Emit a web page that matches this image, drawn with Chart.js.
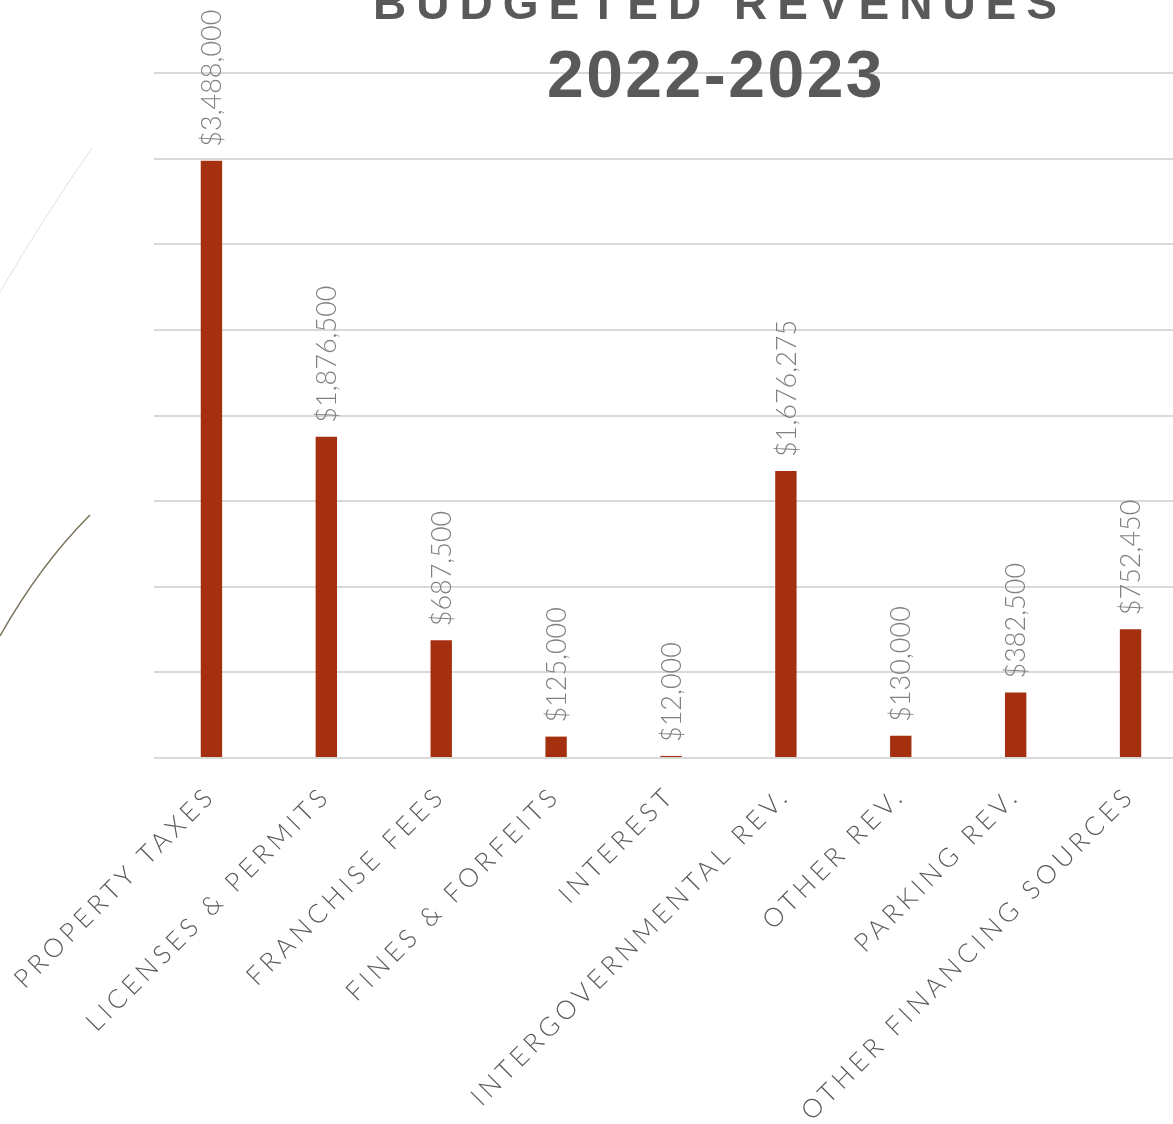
<!DOCTYPE html>
<html>
<head>
<meta charset="utf-8">
<script src="https://cdn.jsdelivr.net/npm/chart.js@4.4.1/dist/chart.umd.min.js"></script>
<style>
  html, body { margin: 0; background: #ffffff; overflow: hidden; }
  #wrap { width: 1188px; height: 1124px; position: relative; }
</style>
</head>
<body>
<div id="wrap"><canvas id="grafica"></canvas></div>
<script>
// datos del grafico
const categorias = ['PROPERTY TAXES', 'LICENSES & PERMITS', 'FRANCHISE FEES', 'FINES & FORFEITS', 'INTEREST',
    'INTERGOVERNMENTAL REV.', 'OTHER REV.', 'PARKING REV.', 'OTHER FINANCING SOURCES'];
const valores = [3488000, 1876500, 687500, 125000, 12000, 1676275, 130000, 382500, 752450];
const titulo = ['BUDGETED REVENUES', '2022-2023'];
const ejeMax = 4000000;
const ejePaso = 500000;

const colorBarra = '#A5300F';
const colorRejilla = '#d9d9d9';

function formatoDinero(v) {
    return '$' + v.toLocaleString('en-US');
}

// espaciado de letras para las etiquetas de categorias
const espaciado = {
    id: 'espaciado',
    beforeLayout(chart) { chart.ctx.letterSpacing = '4.5px'; },
    beforeDraw(chart) { chart.ctx.letterSpacing = '4.5px'; }
};

// lineas decorativas a la izquierda
const decoracion = {
    id: 'decoracion',
    beforeDraw(chart) {
        const ctx = chart.ctx;
        ctx.save();
        ctx.lineWidth = 1;
        ctx.strokeStyle = '#e2dfd8';
        ctx.beginPath();
        ctx.moveTo(0, 292);
        ctx.quadraticCurveTo(45, 215, 92, 148);
        ctx.stroke();
        ctx.lineWidth = 1.5;
        ctx.strokeStyle = '#7a735c';
        ctx.beginPath();
        ctx.moveTo(0, 636);
        ctx.quadraticCurveTo(40, 565, 90, 515);
        ctx.stroke();
        ctx.restore();
    }
};

// titulo y etiquetas de valores
const textos = {
    id: 'textos',
    afterDatasetsDraw(chart) {
        const ctx = chart.ctx;
        const meta = chart.getDatasetMeta(0);
        ctx.save();
        ctx.letterSpacing = '0px';
        ctx.fillStyle = '#808080';
        ctx.font = '300 27px Lato, "DejaVu Sans", sans-serif';
        ctx.textAlign = 'left';
        ctx.textBaseline = 'middle';
        meta.data.forEach((barra, i) => {
            ctx.save();
            ctx.translate(barra.x, barra.y - 14);
            ctx.rotate(-Math.PI / 2);
            ctx.fillText(formatoDinero(valores[i]), 0, 1);
            ctx.restore();
        });
        ctx.restore();
    },
    afterDraw(chart) {
        const ctx = chart.ctx;
        ctx.save();
        ctx.fillStyle = '#595959';
        ctx.textAlign = 'center';
        ctx.textBaseline = 'alphabetic';
        ctx.font = 'bold 46px "Liberation Sans", Arial, sans-serif';
        ctx.letterSpacing = '10px';
        ctx.fillText(titulo[0], 720, 19);
        ctx.font = 'bold 66px "Liberation Sans", Arial, sans-serif';
        ctx.letterSpacing = '2.5px';
        ctx.fillText(titulo[1], 716, 97);
        ctx.restore();
    }
};

const ctx = document.getElementById('grafica').getContext('2d');
const grafica = new Chart(ctx, {
    type: 'bar',
    data: {
        labels: categorias,
        datasets: [{
            label: 'Budgeted Revenues',
            data: valores,
            backgroundColor: colorBarra,
            borderWidth: 0,
            categoryPercentage: 1,
            barPercentage: 0.186
        }]
    },
    options: {
        responsive: true,
        maintainAspectRatio: false,
        animation: false,
        layout: {
            padding: { top: 73, right: 0, bottom: 0, left: 0 }
        },
        plugins: {
            legend: { display: false },
            tooltip: { enabled: false }
        },
        scales: {
            x: {
                grid: { display: false },
                border: { display: false },
                ticks: {
                    color: '#595959',
                    font: { family: 'Lato, "DejaVu Sans", sans-serif', size: 26, weight: '300' },
                    minRotation: 45,
                    maxRotation: 45,
                    autoSkip: false,
                    padding: 14
                },
                afterFit(s) {
                    s.height = 366;
                    s.paddingLeft = 0;
                    s.paddingRight = 0;
                }
            },
            y: {
                min: 0,
                max: ejeMax,
                ticks: { display: false, stepSize: ejePaso },
                border: { display: false },
                grid: { color: colorRejilla, lineWidth: 2, drawTicks: false },
                afterFit(s) { s.width = 154; }
            }
        }
    },
    plugins: [espaciado, decoracion, textos]
});
</script>
</body>
</html>
